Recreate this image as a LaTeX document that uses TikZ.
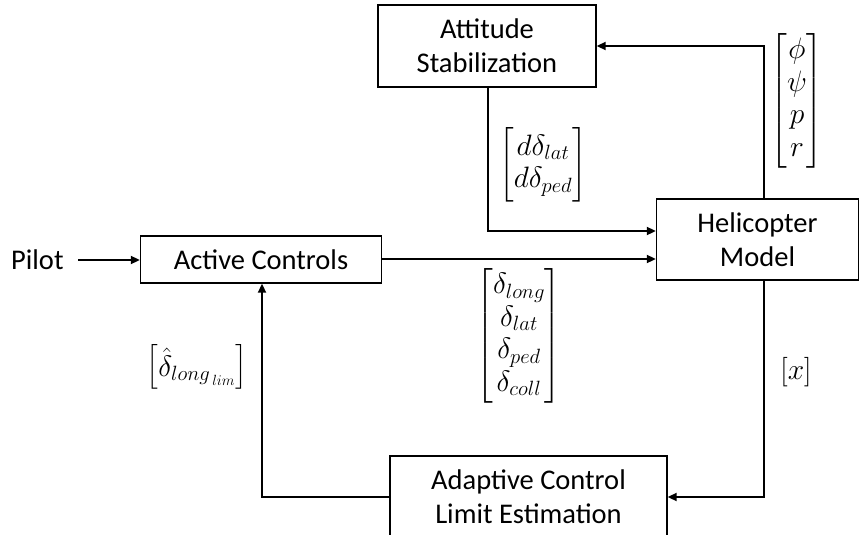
\RequirePackage{fix-cm}
\documentclass[tikz,border=0pt]{standalone}
\usepackage{amsmath}
\usepackage{fontspec}
\setmainfont{Carlito}
\usetikzlibrary{arrows.meta}
\tikzset{
  blockbox/.style={draw, line width=1.4pt, align=center, font=\fontsize{28.5}{34}\selectfont, inner sep=0pt},
  conn/.style={line width=2pt, -{Triangle[length=9pt,width=8pt]}},
  mathlabel/.style={font=\fontsize{29.5}{32.5}\selectfont, inner sep=0pt}
}
\begin{document}
\begin{tikzpicture}[x=1pt,y=-1pt]
\clip (0,0) rectangle (860,535);
\fill[white] (0,0) rectangle (860,535);
\node[blockbox, minimum width=218pt, minimum height=82pt] (att) at (487,46) {Attitude\\Stabilization};
\node[blockbox, minimum width=241pt, minimum height=47pt] (act) at (261,259.5) {Active Controls};
\node[blockbox, minimum width=202pt, minimum height=81pt] (heli) at (757.5,239.5) {Helicopter\\Model};
\node[blockbox, minimum width=277pt, minimum height=82pt] (adapt) at (528.5,497) {Adaptive Control\\Limit Estimation};
\node[font=\fontsize{28.5}{34}\selectfont, inner sep=0pt, anchor=west] (pilot) at (11,260) {Pilot};
% connectors
\coordinate (vx) at (764,0);
\coordinate (attin) at (488,231);
\coordinate (actout) at (0,259);
\coordinate (actin) at (262,0);
\coordinate (pilotstart) at (78,260);
\draw[conn] (pilotstart) -- (act.west |- pilotstart);
\draw[conn] (act.east |- actout) -- (heli.west |- actout);
\draw[conn] (heli.north -| vx) |- (att.east);
\draw[conn] (att.south -| attin) |- (heli.west |- attin);
\draw[conn] (heli.south -| vx) |- (adapt.east);
\draw[conn] (adapt.west) -| (act.south -| actin);
% labels
\node[mathlabel] (lphi) at (797,101) {$\begin{bmatrix}\phi\\ \psi\\ p\\ r\end{bmatrix}$};
\node[mathlabel] (ldd) at (543,165) {$\begin{bmatrix}d\delta_{lat}\\ d\delta_{ped}\end{bmatrix}$};
\node[mathlabel] (ld) at (519,336) {$\begin{bmatrix}\delta_{long}\\ \delta_{lat}\\ \delta_{ped}\\ \delta_{coll}\end{bmatrix}$};
\node[mathlabel] (llim) at (197,367) {$\begin{bmatrix}\hat{\delta}_{{long}_{\,lim}}\end{bmatrix}$};
\node[mathlabel] (lx) at (796,372) {$[x]$};
\end{tikzpicture}
\end{document}
